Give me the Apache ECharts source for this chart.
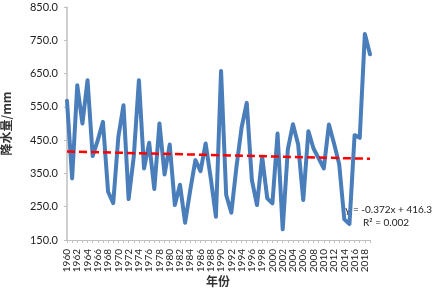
<!DOCTYPE html>
<html>
<head>
<meta charset="utf-8">
<script src="https://cdn.jsdelivr.net/npm/echarts@6/dist/echarts.min.js"></script>
<style>
  html, body { margin: 0; padding: 0; background: #fff; }
  #chart { width: 438px; height: 289px; }
</style>
</head>
<body>
<div id="chart"></div>
<script>
// 年份
const years = []
for (let y = 1960; y <= 2019; y++) years.push(String(y))

// 降水量 (mm)
const rain = [
  568, 335, 615, 500, 630, 402, 450, 505, 295, 261,
  460, 555, 273, 400, 630, 365, 442, 303, 500, 347,
  437, 255, 316, 202, 300, 390, 357, 440, 335, 220,
  658, 285, 232, 370, 488, 562, 330, 255, 400, 275,
  260, 470, 182, 422, 498, 438, 270, 477, 425, 395,
  365, 497, 440, 378, 212, 198, 465, 457, 769, 708
]

// 线性趋势线两端 (y = -0.372x + 416.3)
const trendEnds = [415.9, 394.0]
const trendText = ['y = -0.372x + 416.3', 'R² = 0.002']

const yTicks = { min: 150, max: 850, interval: 100 }

const chart = echarts.init(document.getElementById('chart'))

const labelFont = 'Lato, "Liberation Sans", sans-serif'
const nameFont = { fontFamily: '"Noto Sans CJK SC"', fontSize: 12, fontWeight: 'bold', color: '#333' }

const option = {
  animation: false,
  grid: { left: 67, right: 68, top: 7, bottom: 49, containLabel: false, outerBoundsMode: 'none' },
  xAxis: {
    type: 'category',
    data: years,
    boundaryGap: false,
    axisLine: { lineStyle: { color: '#bfbfbf', width: 1 } },
    axisTick: { show: true, interval: 0, length: 3, lineStyle: { color: '#bfbfbf' } },
    axisLabel: {
      interval: 1,
      rotate: 90,
      margin: 9,
      fontSize: 10,
      fontFamily: labelFont,
      color: '#222'
    },
    splitLine: { show: false }
  },
  yAxis: {
    type: 'value',
    min: yTicks.min,
    max: yTicks.max,
    interval: yTicks.interval,
    name: '降水量/mm',
    nameLocation: 'middle',
    nameGap: 55,
    nameRotate: 90,
    nameTextStyle: nameFont,
    axisLine: { show: true, lineStyle: { color: '#bfbfbf', width: 1.5 } },
    axisTick: { show: true, length: 3, lineStyle: { color: '#bfbfbf' } },
    axisLabel: {
      margin: 9,
      fontSize: 11,
      fontFamily: labelFont,
      color: '#222',
      formatter: v => v.toFixed(1)
    },
    splitLine: { show: false }
  },
  series: [
    {
      name: '降水量',
      type: 'line',
      data: rain,
      symbol: 'none',
      lineStyle: { color: '#4a7ebb', width: 4, cap: 'round', join: 'round' },
      z: 2,
      markLine: {
        silent: true,
        symbol: ['none', 'none'],
        label: { show: false },
        lineStyle: { color: '#ff0000', width: 2.5, type: [8, 4] },
        data: [[
          { coord: [years[0], trendEnds[0]] },
          { coord: [years[years.length - 1], trendEnds[1]] }
        ]],
        z: 3
      }
    }
  ],
  graphic: [
    {
      type: 'text',
      left: 206,
      top: 275,
      style: {
        text: '年份',
        fontSize: nameFont.fontSize,
        fontWeight: nameFont.fontWeight,
        fontFamily: nameFont.fontFamily,
        fill: nameFont.color
      }
    },
    {
      type: 'text',
      right: 6,
      top: 205,
      style: { text: trendText[0], fontSize: 10, fontFamily: labelFont, fill: '#222' }
    },
    {
      type: 'text',
      left: 363,
      top: 218,
      style: { text: trendText[1], fontSize: 10, fontFamily: labelFont, fill: '#222' }
    }
  ]
}

chart.setOption(option)
</script>
</body>
</html>
